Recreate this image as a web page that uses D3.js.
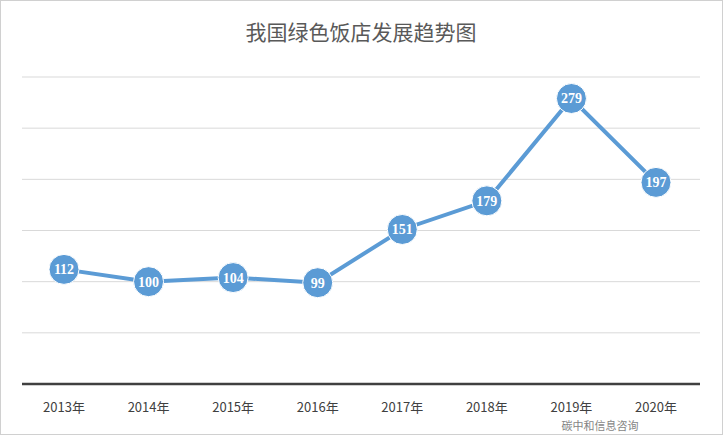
<!DOCTYPE html>
<html><head><meta charset="utf-8">
<script src="https://cdn.jsdelivr.net/npm/d3@7"></script>
<style>body{margin:0;background:#fff}</style></head>
<body><svg id="c" width="723" height="435"></svg>
<script>
const years=["2013年","2014年","2015年","2016年","2017年","2018年","2019年","2020年"];
const values=[112,100,104,99,151,179,279,197];
const yTicks=[0,50,100,150,200,250,300];
const svg=d3.select("#c");
svg.append("rect").attr("x",0.5).attr("y",0.5).attr("width",722).attr("height",434).attr("fill","#fff").attr("stroke","#d0d0d0");
const x=d3.scalePoint().domain(years).range([64,656]);
const y=d3.scaleLinear().domain([0,300]).range([384,77]);
svg.selectAll(".g").data(yTicks.slice(1)).enter().append("line")
 .attr("x1",22).attr("x2",700).attr("y1",d=>y(d)).attr("y2",d=>y(d)).attr("stroke","#d9d9d9");
svg.append("line").attr("x1",22).attr("x2",700).attr("y1",y(0)).attr("y2",y(0)).attr("stroke","#404040").attr("stroke-width",2.5);
svg.selectAll(".xl").data(years).enter().append("text").attr("x",d=>x(d)).attr("y",412)
 .attr("text-anchor","middle").attr("font-size",13).attr("fill","#404040").attr("font-family","Noto Sans CJK SC").text(d=>d);
svg.append("text").attr("x",361).attr("y",40).attr("text-anchor","middle").attr("font-size",21).attr("fill","#595959").attr("font-family","Noto Sans CJK SC").text("我国绿色饭店发展趋势图");
const line=d3.line().x((d,i)=>x(years[i])).y(d=>y(d));
svg.append("path").datum(values).attr("d",line).attr("fill","none").attr("stroke","#5b9bd5").attr("stroke-width",4);
svg.selectAll(".p").data(values).enter().append("circle").attr("cx",(d,i)=>x(years[i])).attr("cy",d=>y(d)).attr("r",15).attr("fill","#5b9bd5").attr("stroke","#fff").attr("stroke-width",1);
svg.selectAll(".v").data(values).enter().append("text").attr("x",(d,i)=>x(years[i])).attr("y",d=>y(d)+5)
 .attr("text-anchor","middle").attr("font-size",14).attr("font-weight","bold").attr("fill","#fff").attr("font-family","Liberation Serif").text(d=>d);
svg.append("text").attr("x",600).attr("y",430).attr("text-anchor","middle").attr("font-size",11).attr("fill","#666").attr("opacity",0.8).attr("font-family","Noto Sans CJK SC").text("碳中和信息咨询");
</script></body></html>
